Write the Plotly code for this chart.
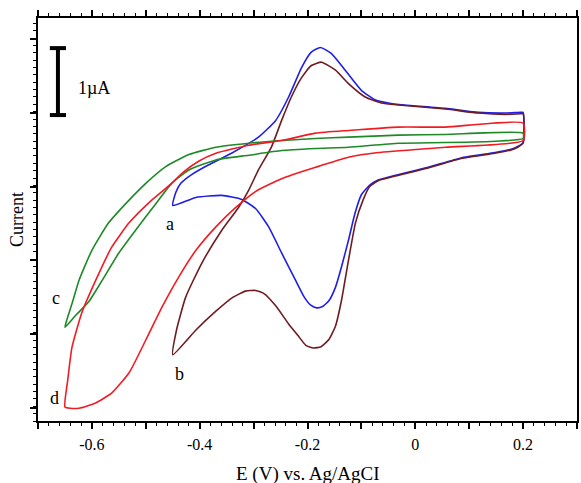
import plotly.graph_objects as go

# Curve a (blue)
a_E = [-0.45, -0.444, -0.435, -0.415, -0.385, -0.341, -0.291, -0.259, -0.235, -0.211, -0.193, -0.176, -0.156, -0.130,
       -0.100, -0.075, -0.050, -0.020, 0.056, 0.117, 0.167, 0.195, 0.2,
       0.2, 0.19, 0.178, 0.148, 0.085, 0.024, -0.037, -0.069, -0.085, -0.100, -0.112, -0.124, -0.137, -0.148, -0.160, -0.172, -0.183,
       -0.194, -0.206, -0.222, -0.248, -0.272, -0.296, -0.322, -0.359, -0.407, -0.45]
a_I = [3.22, 3.42, 3.55, 3.68, 3.82, 4.00, 4.24, 4.49, 4.84, 5.28, 5.51, 5.58, 5.49, 5.24,
       4.94, 4.80, 4.75, 4.72, 4.67, 4.61, 4.60, 4.61, 4.61,
       4.16, 4.10, 4.06, 4.01, 3.93, 3.79, 3.67, 3.60, 3.52, 3.38, 3.10, 2.70, 2.30, 2.00, 1.80, 1.71, 1.69,
       1.73, 1.85, 2.10, 2.51, 2.90, 3.17, 3.31, 3.37, 3.34, 3.22]

# Curve b (brown)
b_E = [-0.45, -0.443, -0.426, -0.396, -0.359, -0.328, -0.309, -0.291, -0.267, -0.248, -0.230, -0.211,
       -0.193, -0.174, -0.148, -0.124, -0.093, -0.063, -0.031, 0.056, 0.117, 0.167, 0.195, 0.2,
       0.2, 0.19, 0.178, 0.148, 0.085, 0.024, -0.037, -0.069, -0.085, -0.097, -0.111, -0.124, -0.137, -0.148, -0.160, -0.175,
       -0.189, -0.203, -0.218, -0.235, -0.259, -0.280, -0.296, -0.315, -0.340, -0.370, -0.407, -0.45]
b_I = [0.99, 1.36, 1.85, 2.36, 2.85, 3.19, 3.45, 3.75, 4.09, 4.49, 4.84, 5.13,
       5.31, 5.36, 5.24, 5.04, 4.84, 4.75, 4.72, 4.66, 4.60, 4.58, 4.59, 4.59,
       4.15, 4.09, 4.05, 4.00, 3.92, 3.78, 3.66, 3.59, 3.50, 3.30, 2.96, 2.40, 1.80, 1.42, 1.22, 1.11,
       1.09, 1.13, 1.28, 1.45, 1.72, 1.90, 1.95, 1.94, 1.84, 1.64, 1.36, 0.99]

# Curve c (green)
c_E = [0.2, 0.056, -0.031, -0.124, -0.185, -0.248, -0.309, -0.370, -0.420, -0.463, -0.500, -0.531,
       -0.569, -0.600, -0.624, -0.637, -0.645, -0.65,
       -0.630, -0.606, -0.581, -0.550, -0.519, -0.481, -0.452, -0.420, -0.370, -0.309, -0.248, -0.185,
       -0.124, -0.031, 0.056, 0.15, 0.2, 0.2]
c_I = [4.30, 4.28, 4.27, 4.24, 4.22, 4.19, 4.15, 4.09, 3.98, 3.80, 3.55, 3.30,
       2.96, 2.55, 2.10, 1.75, 1.55, 1.40,
       1.58, 1.78, 2.10, 2.51, 2.85, 3.25, 3.55, 3.75, 3.90, 3.97, 4.04, 4.07,
       4.09, 4.15, 4.16, 4.18, 4.22, 4.30]

# Curve d (red)
d_E = [0.2, 0.056, -0.031, -0.124, -0.185, -0.248, -0.309, -0.370, -0.402, -0.433, -0.452, -0.489, -0.531,
       -0.563, -0.593, -0.619, -0.637, -0.645, -0.65,
       -0.640, -0.624, -0.593, -0.563, -0.531, -0.500, -0.470, -0.439, -0.407, -0.370, -0.333, -0.296,
       -0.248, -0.185, -0.124, -0.069, 0.056, 0.2, 0.2]
d_I = [4.45, 4.39, 4.39, 4.34, 4.30, 4.19, 4.12, 4.00, 3.88, 3.70, 3.55, 3.30, 2.96,
       2.60, 2.10, 1.61, 1.10, 0.60, 0.21,
       0.19, 0.19, 0.27, 0.42, 0.72, 1.21, 1.70, 2.15, 2.55, 2.90, 3.19, 3.43,
       3.62, 3.79, 3.94, 4.01, 4.09, 4.19, 4.45]

curves = [
    (a_E, a_I, "#1f1fe8", "a", -0.456, 2.94),
    (b_E, b_I, "#6e1c22", "b", -0.437, 0.70),
    (c_E, c_I, "#1e8a26", "c", -0.667, 1.84),
    (d_E, d_I, "#f01c24", "d", -0.670, 0.34),
]

FONT = "Liberation Serif"
X_TITLE = "E (V) vs. Ag/AgCI"

fig = go.Figure()
for E, I, col, lab, lx, ly in curves:
    fig.add_trace(go.Scatter(x=E, y=I, mode="lines",
                             line=dict(color=col, width=1.6, shape="spline", smoothing=0.5),
                             showlegend=False, hoverinfo="skip"))
    fig.add_annotation(x=lx, y=ly, text=lab, showarrow=False,
                       font=dict(family=FONT, size=18, color="black"))

# scale bar 1 µA
bar_x, bar_y0, bar_y1, cap = -0.663, 4.57, 5.57, 0.015
fig.add_shape(type="line", x0=bar_x, x1=bar_x, y0=bar_y0, y1=bar_y1, line=dict(color="black", width=4))
fig.add_shape(type="line", x0=bar_x - cap, x1=bar_x + cap, y0=bar_y0, y1=bar_y0, line=dict(color="black", width=4))
fig.add_shape(type="line", x0=bar_x - cap, x1=bar_x + cap, y0=bar_y1, y1=bar_y1, line=dict(color="black", width=4))
fig.add_annotation(x=-0.630, y=4.98, text="1µA", showarrow=False, xanchor="left",
                   font=dict(family=FONT, size=18, color="black"))

# x-axis title (placed below tick labels)
fig.add_annotation(x=0.5, y=-0.1315, xref="paper", yref="paper", text=X_TITLE, showarrow=False,
                   yanchor="middle", font=dict(family=FONT, size=19, color="black"))

x_major = [round(-0.7 + 0.1 * i, 1) for i in range(11)]
x_text = ["" if round(v * 10) % 2 != 0 else ("0" if abs(v) < 1e-9 else f"{v:g}") for v in x_major]

fig.update_layout(
    width=581, height=483,
    margin=dict(l=38, r=4, t=18, b=62),
    paper_bgcolor="white", plot_bgcolor="white",
    font=dict(family=FONT, size=16, color="black"),
    xaxis=dict(range=[-0.7, 0.3], tickmode="array", tickvals=x_major, ticktext=x_text,
               ticks="outside", ticklen=6, tickwidth=1.5, tickcolor="black",
               minor=dict(dtick=0.02, tick0=0, ticks="outside", ticklen=3, tickwidth=1, tickcolor="black"),
               showline=True, linecolor="black", linewidth=2, mirror="ticks",
               showgrid=False, zeroline=False, ticklabelstandoff=2, automargin=False,
               tickfont=dict(family=FONT, size=16)),
    yaxis=dict(range=[0, 6.02], dtick=1.1, tick0=0.2, showticklabels=False,
               ticks="outside", ticklen=6, tickwidth=1.5, tickcolor="black",
               minor=dict(dtick=0.11, ticks="outside", ticklen=3, tickwidth=1, tickcolor="black"),
               showline=True, linecolor="black", linewidth=2, mirror=True,
               showgrid=False, zeroline=False, automargin=False,
               title=dict(text="Current", font=dict(family=FONT, size=18), standoff=2)),
)

fig.write_html("out.html")
